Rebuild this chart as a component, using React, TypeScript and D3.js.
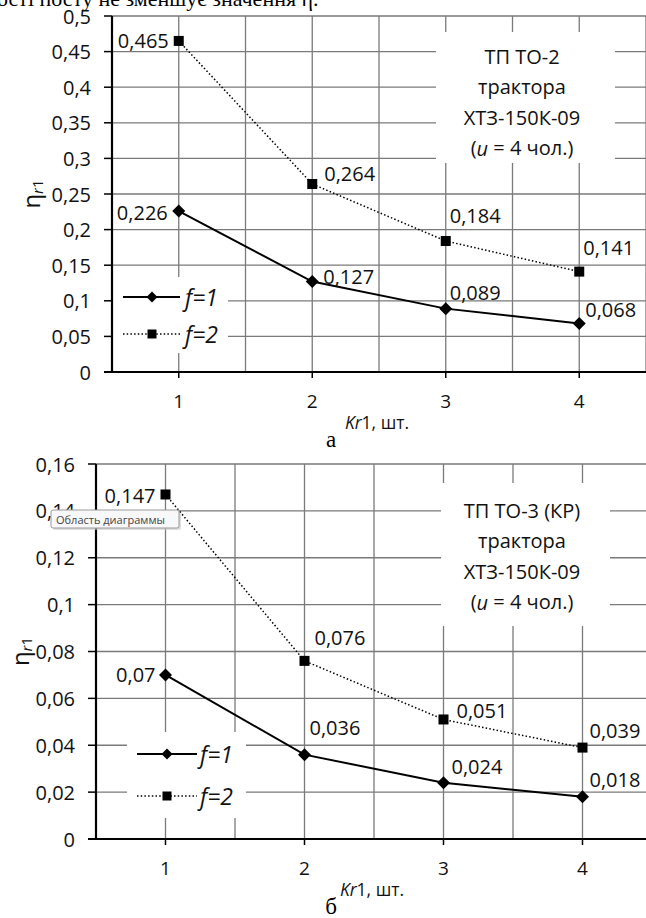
import React from 'react';
import * as d3 from 'd3';

// значения
const kr = [1, 2, 3, 4];
const etaA_f1 = [0.226, 0.127, 0.089, 0.068];
const etaA_f2 = [0.465, 0.264, 0.184, 0.141];
const etaB_f1 = [0.07, 0.036, 0.024, 0.018];
const etaB_f2 = [0.147, 0.076, 0.051, 0.039];
const yTicksA = [0, 0.05, 0.1, 0.15, 0.2, 0.25, 0.3, 0.35, 0.4, 0.45, 0.5];
const yTicksB = [0, 0.02, 0.04, 0.06, 0.08, 0.1, 0.12, 0.14, 0.16];
const seriesNames = ['f=1', 'f=2'];
const noteA = ['ТП ТО-2', 'трактора', 'ХТЗ-150К-09'];
const noteB = ['ТП ТО-3 (КР)', 'трактора', 'ХТЗ-150К-09'];
const captions = ['а', 'б'];

const FONT = "'Open Sans', 'Noto Sans', sans-serif";
const fmt = (v: number) => String(v).replace('.', ',');

// положение и оформление каждого графика
const charts = [
  {
    f1: etaA_f1, f2: etaA_f2, yTicks: yTicksA, note: noteA, caption: captions[0],
    left: 112, right: 646, top: 16, bottom: 372, titleX: 30,
    box: [436, 32, 615, 163], noteX: 522, noteY: 56,
    legend: {box: [113, 277, 228, 353], rows: [297, 334], x1: 123, x2: 180, mx: 152, tx: 185},
    off1: [[-11, 1, 'end'], [11, -5, 'start'], [4, -16, 'start'], [6, -14, 'start']],
    off2: [[-10, 0, 'end'], [12, -11, 'start'], [4, -25, 'start'], [4, -24, 'start']],
    tooltip: false
  },
  {
    f1: etaB_f1, f2: etaB_f2, yTicks: yTicksB, note: noteB, caption: captions[1],
    left: 96, right: 652, top: 464, bottom: 839, titleX: 19,
    box: [441, 483, 610, 626], noteX: 522, noteY: 510,
    legend: {box: [127, 732, 246, 818], rows: [754, 796], x1: 137, x2: 197, mx: 167, tx: 200},
    off1: [[-10, 0, 'end'], [5, -27, 'start'], [8, -16, 'start'], [7, -17, 'start']],
    off2: [[-10, 1, 'end'], [10, -23, 'start'], [13, -9, 'start'], [7, -17, 'start']],
    tooltip: true
  }
];

const Diamond = ({x, y, r}: {x: number; y: number; r: number}) => (
  <path d={`M${x},${y - r}L${x + r},${y}L${x},${y + r}L${x - r},${y}Z`} fill="#000" />
);
const Square = ({x, y, s}: {x: number; y: number; s: number}) => (
  <rect x={x - s / 2} y={y - s / 2} width={s} height={s} fill="#000" />
);

function Chart({c}: {c: any}) {
  const x = d3.scaleLinear().domain([0.5, 4.5]).range([c.left, c.right]);
  const yMax = c.yTicks[c.yTicks.length - 1];
  const y = d3.scaleLinear().domain([0, yMax]).range([c.bottom, c.top]);
  const line = d3.line<number>().x((d, i) => x(kr[i])).y(d => y(d));
  const vGrid = d3.range(1, 4.51, 0.5);
  const [bx1, by1, bx2, by2] = c.box;
  const lg = c.legend;
  const midX = (c.left + c.right) / 2;
  const midY = (c.top + c.bottom) / 2;

  return (
    <g>
      {/* сетка */}
      {c.yTicks.slice(1).map((t: number) => (
        <line key={'h' + t} x1={c.left} x2={c.right} y1={y(t)} y2={y(t)} stroke="#7a7a7a" strokeWidth={1.3} />
      ))}
      {vGrid.map(v => (
        <line key={'v' + v} x1={x(v)} x2={x(v)} y1={c.top} y2={c.bottom} stroke="#7a7a7a" strokeWidth={1.3} />
      ))}
      {/* подложки надписи и легенды */}
      <rect x={bx1} y={by1} width={bx2 - bx1} height={by2 - by1} fill="#fff" />
      <rect x={lg.box[0]} y={lg.box[1]} width={lg.box[2] - lg.box[0]} height={lg.box[3] - lg.box[1]} fill="#fff" />
      {/* оси */}
      <line x1={c.left} x2={c.left} y1={c.top} y2={c.bottom} stroke="#000" strokeWidth={2.2} />
      <line x1={c.left - 8} x2={c.right} y1={c.bottom} y2={c.bottom} stroke="#000" strokeWidth={2.2} />
      {c.yTicks.map((t: number) => (
        <g key={'yt' + t}>
          <line x1={c.left - 8} x2={c.left} y1={y(t)} y2={y(t)} stroke="#000" strokeWidth={1.5} />
          <text x={c.left - 21} y={y(t)} textAnchor="end" dominantBaseline="central" fontSize={20} fontFamily={FONT} fill="#111">
            {fmt(t)}
          </text>
        </g>
      ))}
      {kr.map(k => (
        <g key={'xt' + k}>
          <line x1={x(k)} x2={x(k)} y1={c.bottom} y2={c.bottom + 6} stroke="#000" strokeWidth={1.5} />
          <text x={x(k)} y={c.bottom + 29} textAnchor="middle" dominantBaseline="central" fontSize={19} fontFamily={FONT} fill="#111">
            {k}
          </text>
        </g>
      ))}
      {/* подписи осей */}
      <text x={midX - 2} y={c.bottom + 50} textAnchor="middle" dominantBaseline="central" fontSize={17.5} fontFamily={FONT} fill="#111">
        <tspan fontStyle="italic">Kr</tspan>1, шт.
      </text>
      <text transform={`translate(${c.titleX},${midY}) rotate(-90)`} textAnchor="middle" dominantBaseline="central" fontSize={24} fontFamily={FONT} fill="#111">
        η<tspan fontSize={15} fontStyle="italic" dy={7}>r</tspan><tspan fontSize={15} dy={0}>1</tspan>
      </text>
      <text x={331} y={c.bottom + 75} textAnchor="middle" fontSize={23} fontFamily="'Liberation Serif', serif" fill="#000">
        {c.caption}
      </text>
      {/* линии рядов */}
      <path d={line(c.f1) || ''} fill="none" stroke="#000" strokeWidth={2} />
      <path d={line(c.f2) || ''} fill="none" stroke="#000" strokeWidth={1.5} strokeDasharray="1.5 2.2" />
      {c.f1.map((v: number, i: number) => <Diamond key={'d' + i} x={x(kr[i])} y={y(v)} r={6.5} />)}
      {c.f2.map((v: number, i: number) => <Square key={'s' + i} x={x(kr[i])} y={y(v)} s={10} />)}
      {c.f1.map((v: number, i: number) => (
        <text key={'l1' + i} x={x(kr[i]) + c.off1[i][0]} y={y(v) + c.off1[i][1]} textAnchor={c.off1[i][2]} dominantBaseline="central" fontSize={20} fontFamily={FONT} fill="#111">
          {fmt(v)}
        </text>
      ))}
      {c.f2.map((v: number, i: number) => (
        <text key={'l2' + i} x={x(kr[i]) + c.off2[i][0]} y={y(v) + c.off2[i][1]} textAnchor={c.off2[i][2]} dominantBaseline="central" fontSize={20} fontFamily={FONT} fill="#111">
          {fmt(v)}
        </text>
      ))}
      {/* легенда */}
      {seriesNames.map((name, i) => (
        <g key={name}>
          <line x1={lg.x1} x2={lg.x2} y1={lg.rows[i]} y2={lg.rows[i]} stroke="#000"
            strokeWidth={i === 0 ? 2 : 1.5} strokeDasharray={i === 0 ? undefined : '1.5 2.2'} />
          {i === 0 ? <Diamond x={lg.mx} y={lg.rows[i]} r={5.5} /> : <Square x={lg.mx} y={lg.rows[i]} s={9} />}
          <text x={lg.tx} y={lg.rows[i]} dominantBaseline="central" fontSize={23} fontStyle="italic" fontFamily={FONT} fill="#111">
            {name}
          </text>
        </g>
      ))}
      {/* надпись */}
      {c.note.map((s: string, i: number) => (
        <text key={'n' + i} x={c.noteX} y={c.noteY + i * 30.5} textAnchor="middle" dominantBaseline="central" fontSize={20} fontFamily={FONT} fill="#111">
          {s}
        </text>
      ))}
      <text x={c.noteX} y={c.noteY + 3 * 30.5} textAnchor="middle" dominantBaseline="central" fontSize={20} fontFamily={FONT} fill="#111">
        (<tspan fontStyle="italic">u</tspan> = 4 чол.)
      </text>
      {c.tooltip && (
        <g>
          <rect x={53} y={512} width={128} height={18} fill="#c8c8c8" opacity={0.6} rx={2} />
          <rect x={51} y={510} width={128} height={18} fill="#f8f8fb" stroke="#9a9a9a" rx={2} />
          <text x={56} y={519.5} dominantBaseline="central" fontSize={11} fontFamily={FONT} fill="#444">
            Область диаграммы
          </text>
        </g>
      )}
    </g>
  );
}

export default function App() {
  return (
    <svg width={646} height={918} style={{position: 'absolute', left: 0, top: 0, background: '#fff'}}>
      <rect width={646} height={918} fill="#fff" />
      <text x={-3} y={6} fontSize={22} fontFamily="'Liberation Serif', serif" fill="#000">
        ості посту не зменшує значення η.
      </text>
      {charts.map((c, i) => <Chart key={i} c={c} />)}
    </svg>
  );
}
